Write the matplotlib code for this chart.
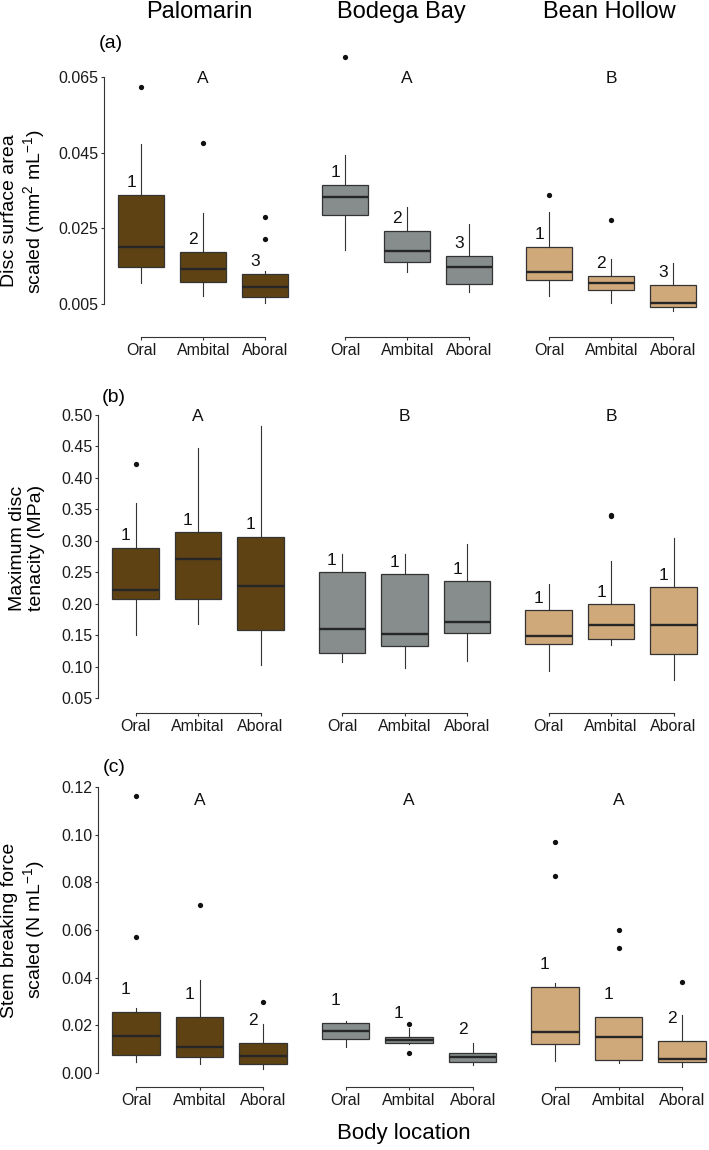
import matplotlib
matplotlib.use("Agg")
import matplotlib.pyplot as plt

plt.rcParams['font.family'] = ['Liberation Sans', 'DejaVu Sans']
plt.rcParams['mathtext.default'] = 'regular'

sites = ['Palomarin', 'Bodega Bay', 'Bean Hollow']
locations = ['Oral', 'Ambital', 'Aboral']
site_colors = ['#5e4214', '#868d8c', '#cfa97a']

# (a) disc surface area scaled -- per site: [Oral, Ambital, Aboral]
area_lo = [[0.0106, 0.0072, 0.0053], [0.0193, 0.0135, 0.0082], [0.0072, 0.0053, 0.0032]]
area_q1 = [[0.0148, 0.0109, 0.0069], [0.0286, 0.0161, 0.0103], [0.0114, 0.0088, 0.0042]]
area_med = [[0.0201, 0.0143, 0.0095], [0.0333, 0.0191, 0.0148], [0.0135, 0.0106, 0.0053]]
area_q3 = [[0.0338, 0.0188, 0.0130], [0.0365, 0.0243, 0.0177], [0.0201, 0.0125, 0.0101]]
area_hi = [[0.0473, 0.0291, 0.0138], [0.0444, 0.0307, 0.0262], [0.0294, 0.0170, 0.0159]]
area_out = [[[0.0624], [0.0476], [0.0222, 0.0280]],
            [[0.0703], [], []],
            [[0.0338], [0.0272], []]]
area_num = ['1', '2', '3']
area_group = ['A', 'A', 'B']

# (b) maximum disc tenacity (MPa)
ten_lo = [[0.151, 0.168, 0.103], [0.108, 0.099, 0.110], [0.093, 0.135, 0.079]]
ten_q1 = [[0.208, 0.208, 0.158], [0.123, 0.133, 0.154], [0.137, 0.145, 0.121]]
ten_med = [[0.223, 0.271, 0.229], [0.161, 0.152, 0.171], [0.149, 0.167, 0.167]]
ten_q3 = [[0.289, 0.314, 0.307], [0.250, 0.247, 0.236], [0.190, 0.200, 0.227]]
ten_hi = [[0.361, 0.448, 0.483], [0.280, 0.279, 0.295], [0.231, 0.269, 0.304]]
ten_out = [[[0.422], [], []],
           [[], [], []],
           [[], [0.339, 0.342], []]]
ten_num = ['1', '1', '1']
ten_group = ['A', 'B', 'B']

# (c) stem breaking force scaled (N mL-1)
stem_lo = [[0.0045, 0.0036, 0.0018], [0.0108, 0.0122, 0.0032], [0.0050, 0.0043, 0.0027]]
stem_q1 = [[0.0076, 0.0067, 0.0038], [0.0141, 0.0126, 0.0047], [0.0123, 0.0056, 0.0046]]
stem_med = [[0.0157, 0.0108, 0.0071], [0.0176, 0.0138, 0.0068], [0.0173, 0.0152, 0.0059]]
stem_q3 = [[0.0255, 0.0234, 0.0125], [0.0209, 0.0152, 0.0085], [0.0360, 0.0234, 0.0133]]
stem_hi = [[0.0274, 0.0390, 0.0206], [0.0219, 0.0188, 0.0125], [0.0376, 0.0236, 0.0242]]
stem_out = [[[0.0572, 0.1162], [0.0704], [0.0299]],
            [[], [0.0083, 0.0206], []],
            [[0.0828, 0.0969], [0.0525, 0.0600], [0.0383]]]
stem_num = ['1', '1', '2']
stem_group = ['A', 'A', 'A']

area_ticks = [0.005, 0.025, 0.045, 0.065]
ten_ticks = [0.05, 0.10, 0.15, 0.20, 0.25, 0.30, 0.35, 0.40, 0.45, 0.50]
stem_ticks = [0.00, 0.02, 0.04, 0.06, 0.08, 0.10, 0.12]

W, H = 709, 1150
fig = plt.figure(figsize=(W / 100, H / 100), dpi=100)

rows = [
    dict(data=(area_lo, area_q1, area_med, area_q3, area_hi, area_out),
         num=area_num, group=area_group, ticks=area_ticks, fmt='{:.3f}',
         x0=104, u=62, pitch=204, top=50, bot=337, ylim=(-0.00372, 0.07211),
         num_off=0.0032, group_y=0.0645, tag='(a)', tag_xy=(111, 43),
         ylabel='Disc surface area\nscaled (mm$^{2}$ mL$^{-1}$)', ylab_xy=(24, 211)),
    dict(data=(ten_lo, ten_q1, ten_med, ten_q3, ten_hi, ten_out),
         num=ten_num, group=ten_group, ticks=ten_ticks, fmt='{:.2f}',
         x0=98, u=62.5, pitch=206.5, top=400, bot=713, ylim=(0.02698, 0.52381),
         num_off=0.019, group_y=0.497, tag='(b)', tag_xy=(114, 397),
         ylabel='Maximum disc\ntenacity (MPa)', ylab_xy=(27, 548)),
    dict(data=(stem_lo, stem_q1, stem_med, stem_q3, stem_hi, stem_out),
         num=stem_num, group=stem_group, ticks=stem_ticks, fmt='{:.2f}',
         x0=98, u=63.5, pitch=209.5, top=770, bot=1087, ylim=(-0.00587, 0.12715),
         num_off=0.0097, group_y=0.1143, tag='(c)', tag_xy=(114, 767),
         ylabel='Stem breaking force\nscaled (N mL$^{-1}$)', ylab_xy=(24, 930)),
]

axis_col = '#333333'
for row in rows:
    lo, q1, med, q3, hi, out = row['data']
    for s in range(3):
        left = row['x0'] + s * row['pitch']
        width = 3.2 * row['u']
        ax = fig.add_axes([left / W, 1 - row['bot'] / H, width / W,
                           (row['bot'] - row['top']) / H])
        stats = []
        for k in range(3):
            stats.append(dict(whislo=lo[s][k], q1=q1[s][k], med=med[s][k],
                              q3=q3[s][k], whishi=hi[s][k], fliers=out[s][k]))
        ax.bxp(stats, positions=[1, 2, 3], widths=0.75, patch_artist=True,
               showcaps=False,
               boxprops=dict(facecolor=site_colors[s], edgecolor=axis_col, linewidth=0.9),
               medianprops=dict(color='#262626', linewidth=1.7),
               whiskerprops=dict(color=axis_col, linewidth=0.8),
               flierprops=dict(marker='o', markerfacecolor='#111111',
                               markeredgecolor='none', markersize=3.8))
        for k in range(3):
            ax.text(k + 1 - 0.16, q3[s][k] + row['num_off'], row['num'][k],
                    ha='center', va='center', fontsize=12.5, color='#111111')
        ax.text(2, row['group_y'], row['group'][s], ha='center', va='center',
                fontsize=12.5, color='#111111')

        ax.set_xlim(0.4, 3.6)
        ax.set_ylim(*row['ylim'])
        ax.patch.set_visible(False)
        for sp in ['top', 'right']:
            ax.spines[sp].set_visible(False)
        ax.spines['bottom'].set_bounds(1, 3)
        ax.spines['bottom'].set_color(axis_col)
        ax.spines['bottom'].set_linewidth(0.8)
        ax.set_xticks([1, 2, 3])
        ax.set_xticklabels(locations, fontsize=11.5, color='#1a1a1a')
        ax.tick_params(axis='x', length=2.5, width=0.8, color=axis_col, pad=2)
        if s == 0:
            ax.spines['left'].set_bounds(row['ticks'][0], row['ticks'][-1])
            ax.spines['left'].set_color(axis_col)
            ax.spines['left'].set_linewidth(0.8)
            ax.set_yticks(row['ticks'])
            ax.set_yticklabels([row['fmt'].format(t) for t in row['ticks']],
                               fontsize=11.5, color='#1a1a1a')
            ax.tick_params(axis='y', length=2.5, width=0.8, color=axis_col, pad=1.5)
        else:
            ax.spines['left'].set_visible(False)
            ax.set_yticks([])

    fig.text(row['tag_xy'][0] / W, 1 - row['tag_xy'][1] / H, row['tag'],
             ha='center', va='center', fontsize=14)
    fig.text(row['ylab_xy'][0] / W, 1 - row['ylab_xy'][1] / H, row['ylabel'],
             ha='center', va='center', rotation=90, fontsize=14, linespacing=1.2)

title_x = [199, 401, 609]
for name, tx in zip(sites, title_x):
    fig.text(tx / W, 1 - 12 / H, name, ha='center', va='center', fontsize=17)

fig.text(404 / W, 1 - 1134 / H, 'Body location', ha='center', va='center', fontsize=16)

fig.savefig('out.png', dpi=100)
